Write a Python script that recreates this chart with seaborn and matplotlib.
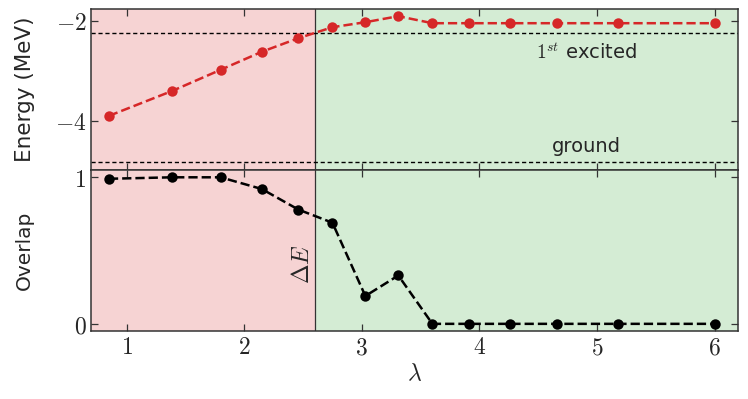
import numpy as np
import pandas as pd
import matplotlib
matplotlib.use("Agg")
import matplotlib.pyplot as plt
import seaborn as sns

sns.set_style("ticks")
plt.rcParams['font.family'] = ['DejaVu Sans']
plt.rcParams['mathtext.fontset'] = 'cm'

lam = [0.85, 1.39, 1.80, 2.15, 2.46, 2.75, 3.03, 3.31, 3.60, 3.91, 4.26, 4.66, 5.18, 6.00]
energy = [-3.90, -3.40, -2.98, -2.62, -2.35, -2.13, -2.03, -1.91, -2.05, -2.05, -2.05, -2.05, -2.05, -2.05]
overlap = [0.99, 1.00, 1.00, 0.92, 0.78, 0.69, 0.19, 0.33, 0.0, 0.0, 0.0, 0.0, 0.0, 0.0]
e_excited = -2.24
e_ground = -4.83
boundary = 2.6

df = pd.DataFrame({"lam": lam, "energy": energy, "overlap": overlap})

fig = plt.figure(figsize=(7.48, 3.99), dpi=100)
ax1 = fig.add_axes([0.122, 0.574, 0.865, 0.403])
ax2 = fig.add_axes([0.122, 0.170, 0.865, 0.404], sharex=ax1)

red = "#d62728"
for ax in (ax1, ax2):
    ax.axvspan(0.7, boundary, color="#f6d3d3", zorder=0, lw=0)
    ax.axvspan(boundary, 6.2, color="#d4ecd4", zorder=0, lw=0)
    ax.axvline(boundary, color="#333333", lw=0.9, zorder=1)

ax1.axhline(e_excited, color="black", ls=(0, (3, 2)), lw=1.0, zorder=2)
ax1.axhline(e_ground, color="black", ls=(0, (3, 2)), lw=1.0, zorder=2)

sns.lineplot(data=df, x="lam", y="energy", ax=ax1, color=red, marker="o",
             linestyle="--", lw=1.8, markersize=7.5, markeredgewidth=0, zorder=3)
sns.lineplot(data=df, x="lam", y="overlap", ax=ax2, color="black", marker="o",
             linestyle="--", lw=1.8, markersize=7.5, markeredgewidth=0, zorder=3)

ax1.set_xlim(0.7, 6.2)
ax1.set_ylim(-4.98, -1.77)
ax2.set_ylim(-0.05, 1.05)

ax1.set_yticks([-4, -2])
ax1.set_yticklabels([r"$-4$", r"$-2$"])
ax2.set_yticks([0, 1])
ax2.set_yticklabels([r"$0$", r"$1$"])
ax2.set_xticks([1, 2, 3, 4, 5, 6])
ax2.set_xticklabels([r"$%d$" % v for v in [1, 2, 3, 4, 5, 6]])
plt.setp(ax1.get_xticklabels(), visible=False)

for ax in (ax1, ax2):
    ax.tick_params(direction="in", top=True, right=True, length=5, width=0.9,
                   labelsize=17, color="#333333")
    for s in ax.spines.values():
        s.set_color("#333333")
        s.set_linewidth(1.1)
ax2.tick_params(axis="x", pad=3)

ax1.set_xlabel("")
ax1.set_ylabel("Energy (MeV)", fontsize=15.5)
ax2.set_ylabel("Overlap", fontsize=14.5)
ax1.yaxis.set_label_coords(-0.087, 0.5)
ax2.yaxis.set_label_coords(-0.089, 0.5)
ax2.set_xlabel(r"$\lambda$", fontsize=17, labelpad=1)

ax1.text(4.91, -2.64, r"$1^{st}$ excited", fontsize=14, ha="center", va="center")
ax1.text(4.91, -4.51, "ground", fontsize=14, ha="center", va="center")
ax2.text(boundary - 0.01, 0.41, r"$\Delta E$", fontsize=17, rotation=90,
         ha="right", va="center")

fig.savefig("out.png", dpi=100)
